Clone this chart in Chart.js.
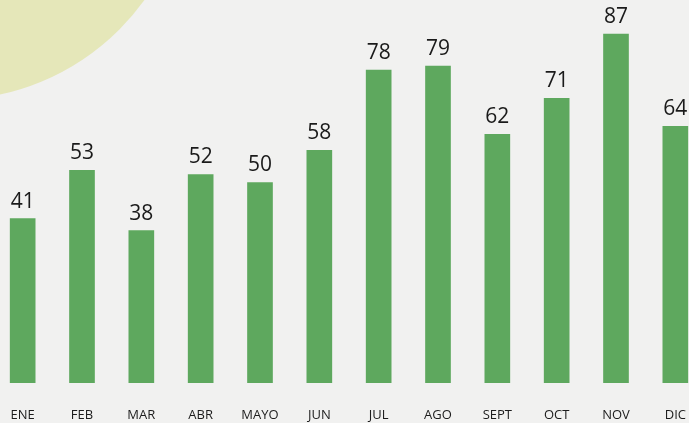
<!DOCTYPE html>
<html>
<head>
<meta charset="utf-8">
<script src="https://cdn.jsdelivr.net/npm/chart.js@4"></script>
<style>
  html, body { margin: 0; padding: 0; width: 689px; height: 423px; overflow: hidden; background: #f1f1f0; }
  #bg { position: absolute; left: 0; top: 0; }
  #wrap { position: absolute; left: -7px; top: 0; width: 712px; height: 423px; }
</style>
</head>
<body>
<canvas id="bg" width="689" height="423"></canvas>
<div id="wrap"><canvas id="chart"></canvas></div>
<script>
// Monthly values
const months = ['ENE', 'FEB', 'MAR', 'ABR', 'MAYO', 'JUN', 'JUL', 'AGO', 'SEPT', 'OCT', 'NOV', 'DIC'];
const values = [41, 53, 38, 52, 50, 58, 78, 79, 62, 71, 87, 64];

// Decorative background circle in the top-left corner
const bg = document.getElementById('bg').getContext('2d');
bg.fillStyle = '#e5e7b9';
bg.beginPath();
bg.arc(-51, -141, 241, 0, Math.PI * 2);
bg.fill();

// Draws the value above each bar
const valueLabels = {
    id: 'valueLabels',
    afterDatasetsDraw(chart) {
        const ctx = chart.ctx;
        const meta = chart.getDatasetMeta(0);
        ctx.save();
        ctx.fillStyle = '#1a1a1a';
        ctx.font = '21px "Open Sans", sans-serif';
        ctx.textAlign = 'center';
        ctx.textBaseline = 'alphabetic';
        meta.data.forEach(function(bar, i) {
            ctx.fillText(values[i], bar.x, bar.y - 11);
        });
        ctx.restore();
    }
};

new Chart(document.getElementById('chart'), {
    type: 'bar',
    data: {
        labels: months,
        datasets: [{
            data: values,
            backgroundColor: '#5ea85e',
            barThickness: 25
        }]
    },
    options: {
        responsive: true,
        maintainAspectRatio: false,
        animation: false,
        layout: { padding: 0 },
        plugins: {
            legend: { display: false },
            tooltip: { enabled: false }
        },
        scales: {
            x: {
                grid: { display: false },
                border: { display: false },
                afterFit: function(scale) { scale.height = 40; },
                ticks: {
                    color: '#1c1c1c',
                    padding: 16,
                    font: { family: '"Open Sans", sans-serif', size: 13 }
                }
            },
            y: {
                display: false,
                min: 0,
                max: 95.5
            }
        }
    },
    plugins: [valueLabels]
});
</script>
</body>
</html>
